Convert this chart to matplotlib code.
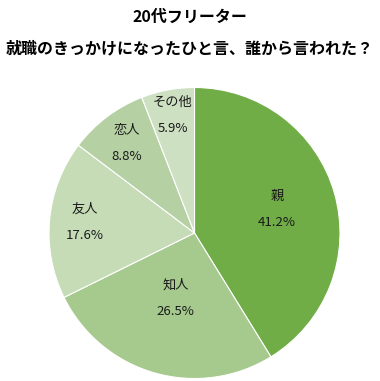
import matplotlib
matplotlib.use("Agg")
import matplotlib.pyplot as plt
import numpy as np

plt.rcParams['font.family'] = ['Noto Sans CJK JP', 'DejaVu Sans']

# data
labels = ["親", "知人", "友人", "恋人", "その他"]
values = [41.2, 26.5, 17.6, 8.8, 5.9]
colors = ["#70AD47", "#A6C98E", "#C6DCB7", "#B5D0A3", "#CDE0C2"]
title_lines = ["20代フリーター", "就職のきっかけになったひと言、誰から言われた？"]

# where each label sits (fraction of radius), like Excel's best-fit
label_r = [0.59, 0.47, 0.76, 0.77, 0.82]

fig = plt.figure(figsize=(3.8, 3.81), dpi=100)
ax = fig.add_axes([49 / 380, 2.5 / 381, 291 / 380, 291 / 381])

wedges, _ = ax.pie(values, colors=colors, startangle=90, counterclock=False,
                   radius=1, wedgeprops=dict(edgecolor="white", linewidth=0.8))

# put category name and percent inside each slice
for w, lab, v, r in zip(wedges, labels, values, label_r):
    ang = np.deg2rad((w.theta1 + w.theta2) / 2)
    x, y = r * np.cos(ang), r * np.sin(ang)
    ax.text(x, y + 0.09, lab, ha="center", va="center", fontsize=9.5, color="#1a1a1a")
    ax.text(x, y - 0.09, f"{v:.1f}%", ha="center", va="center", fontsize=9.5, color="#1a1a1a")

ax.set_xlim(-1, 1)
ax.set_ylim(-1, 1)
ax.set_aspect("equal")
ax.axis("off")

fig.text(0.5, 1 - 17 / 381, title_lines[0], ha="center", va="center",
         fontsize=11.5, fontweight="bold")
fig.text(0.5, 1 - 48 / 381, title_lines[1], ha="center", va="center",
         fontsize=11.5, fontweight="bold")

fig.savefig("out.png", dpi=100, facecolor="white")
